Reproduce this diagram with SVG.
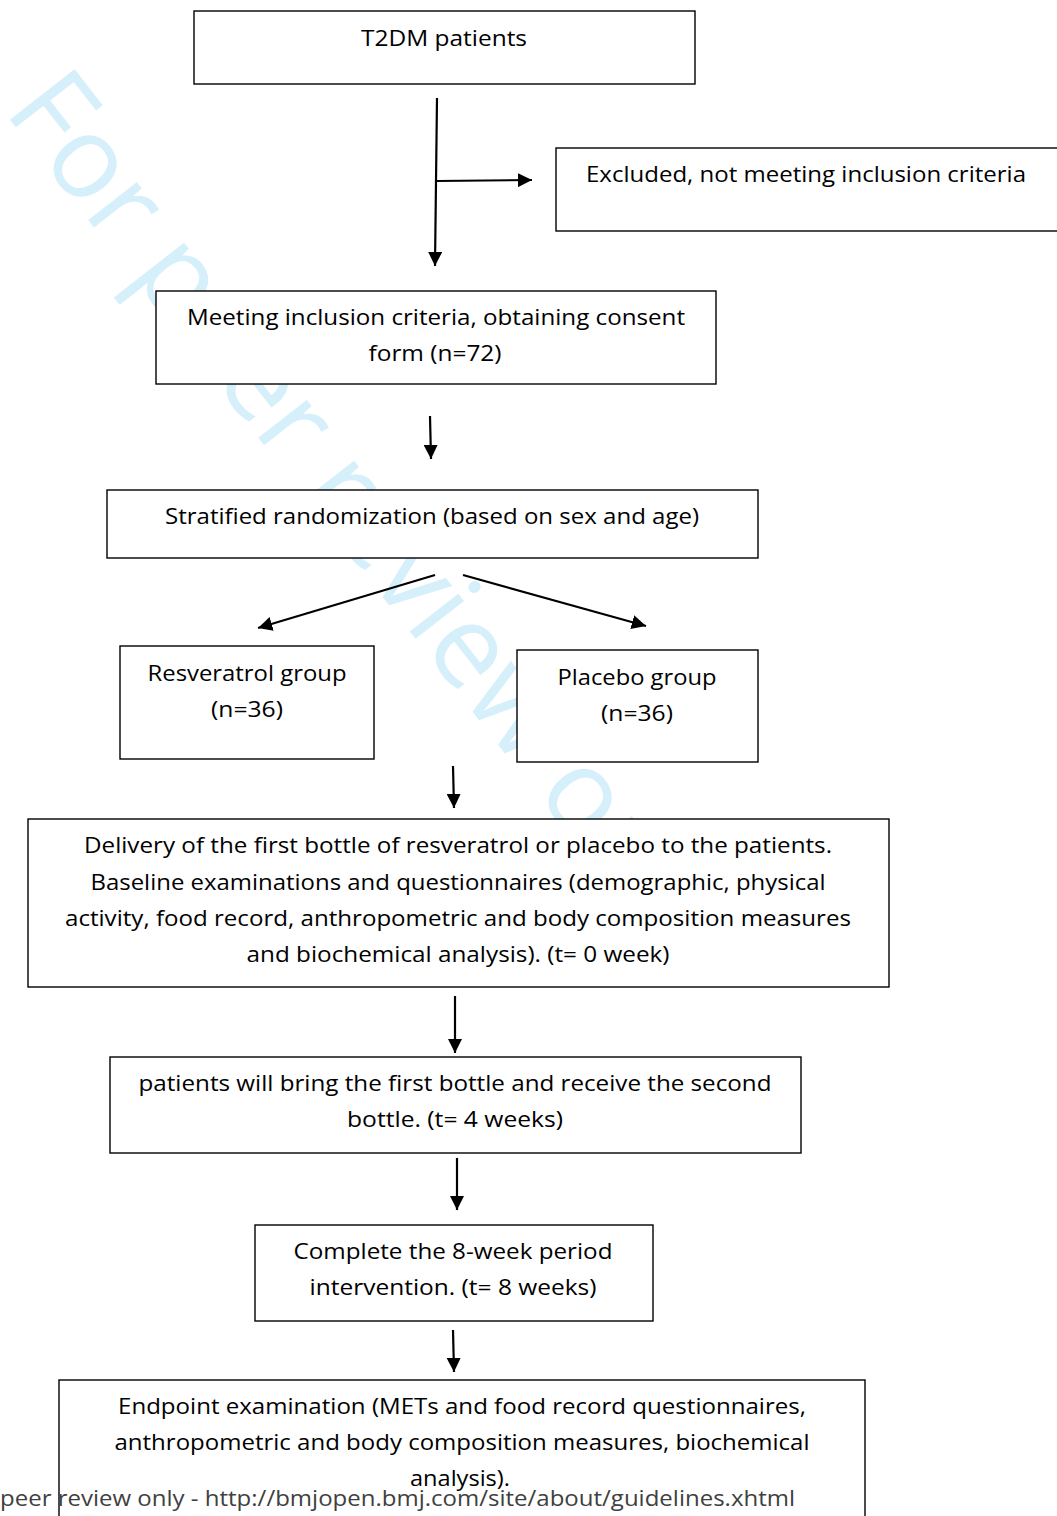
<svg xmlns="http://www.w3.org/2000/svg" width="1057" height="1516" viewBox="0 0 1057 1516">
<style>
.box{fill:#fff;stroke:#000;stroke-width:1.4}
.t{font-family:"Open Sans","Noto Sans",sans-serif;font-size:22px;fill:#000;text-anchor:middle}
.c{stroke:#000;stroke-width:2.2;fill:none;marker-end:url(#ah)}
.wm{font-family:"Open Sans","Noto Sans",sans-serif;font-size:115px;fill:#d5effb}
.ft{font-family:"Open Sans","Noto Sans",sans-serif;font-size:22px;fill:#404040}
</style>
<defs>
<marker id="ah" viewBox="0 0 10 10" refX="10" refY="5" markerWidth="6.5" markerHeight="6.5" orient="auto" markerUnits="strokeWidth">
<path d="M0,0 L10,5 L0,10 z" fill="#000"/>
</marker>
</defs>
<rect width="1057" height="1516" fill="#fff"/>
<text class="wm" transform="translate(3,111) rotate(52)">For peer review only</text>
<g id="connectors">
<line class="c" x1="437" y1="98" x2="435" y2="266"/>
<line class="c" x1="437" y1="181" x2="532" y2="180"/>
<line class="c" x1="430" y1="416" x2="431" y2="459"/>
<line class="c" x1="435" y1="575" x2="258" y2="628"/>
<line class="c" x1="463" y1="575" x2="646" y2="626"/>
<line class="c" x1="453" y1="766" x2="454" y2="808"/>
<line class="c" x1="455" y1="996" x2="455" y2="1053"/>
<line class="c" x1="457" y1="1158" x2="457" y2="1210"/>
<line class="c" x1="453" y1="1330" x2="454" y2="1372"/>
</g>
<g id="n1"><rect class="box" x="194" y="11" width="501" height="73"/><text class="t" x="444" y="46" textLength="166" lengthAdjust="spacingAndGlyphs">T2DM patients</text></g>
<g id="n2"><rect class="box" x="556" y="148" width="502" height="83"/><text class="t" x="806" y="182" textLength="440" lengthAdjust="spacingAndGlyphs">Excluded, not meeting inclusion criteria</text></g>
<g id="n3"><rect class="box" x="156" y="291" width="560" height="93"/><text class="t" x="436" y="325" textLength="498" lengthAdjust="spacingAndGlyphs">Meeting inclusion criteria, obtaining consent</text><text class="t" x="435" y="361" textLength="133" lengthAdjust="spacingAndGlyphs">form (n=72)</text></g>
<g id="n4"><rect class="box" x="107" y="490" width="651" height="68"/><text class="t" x="432" y="524" textLength="534" lengthAdjust="spacingAndGlyphs">Stratified randomization (based on sex and age)</text></g>
<g id="n5"><rect class="box" x="120" y="646" width="254" height="113"/><text class="t" x="247" y="681" textLength="199" lengthAdjust="spacingAndGlyphs">Resveratrol group</text><text class="t" x="247" y="717" textLength="72" lengthAdjust="spacingAndGlyphs">(n=36)</text></g>
<g id="n6"><rect class="box" x="517" y="650" width="241" height="112"/><text class="t" x="637" y="685" textLength="159" lengthAdjust="spacingAndGlyphs">Placebo group</text><text class="t" x="637" y="721" textLength="72" lengthAdjust="spacingAndGlyphs">(n=36)</text></g>
<g id="n7"><rect class="box" x="28" y="819" width="861" height="168"/>
<text class="t" x="458" y="853" textLength="748" lengthAdjust="spacingAndGlyphs">Delivery of the first bottle of resveratrol or placebo to the patients.</text>
<text class="t" x="458" y="890" textLength="735" lengthAdjust="spacingAndGlyphs">Baseline examinations and questionnaires (demographic, physical</text>
<text class="t" x="458" y="926" textLength="786" lengthAdjust="spacingAndGlyphs">activity, food record, anthropometric and body composition measures</text>
<text class="t" x="458" y="962" textLength="423" lengthAdjust="spacingAndGlyphs">and biochemical analysis). (t= 0 week)</text></g>
<g id="n8"><rect class="box" x="110" y="1057" width="691" height="96"/>
<text class="t" x="455" y="1091" textLength="633" lengthAdjust="spacingAndGlyphs">patients will bring the first bottle and receive the second</text>
<text class="t" x="455" y="1127" textLength="216" lengthAdjust="spacingAndGlyphs">bottle. (t= 4 weeks)</text></g>
<g id="n9"><rect class="box" x="255" y="1225" width="398" height="96"/>
<text class="t" x="453" y="1259" textLength="319" lengthAdjust="spacingAndGlyphs">Complete the 8-week period</text>
<text class="t" x="453" y="1295" textLength="287" lengthAdjust="spacingAndGlyphs">intervention. (t= 8 weeks)</text></g>
<g id="n10"><rect class="box" x="59" y="1380" width="806" height="160"/>
<text class="t" x="462" y="1414" textLength="688" lengthAdjust="spacingAndGlyphs">Endpoint examination (METs and food record questionnaires,</text>
<text class="t" x="462" y="1450" textLength="695" lengthAdjust="spacingAndGlyphs">anthropometric and body composition measures, biochemical</text>
<text class="t" x="460" y="1486" textLength="100" lengthAdjust="spacingAndGlyphs">analysis).</text></g>
<text class="ft" x="0" y="1506" textLength="795" lengthAdjust="spacingAndGlyphs">peer review only - http://bmjopen.bmj.com/site/about/guidelines.xhtml</text>
</svg>
